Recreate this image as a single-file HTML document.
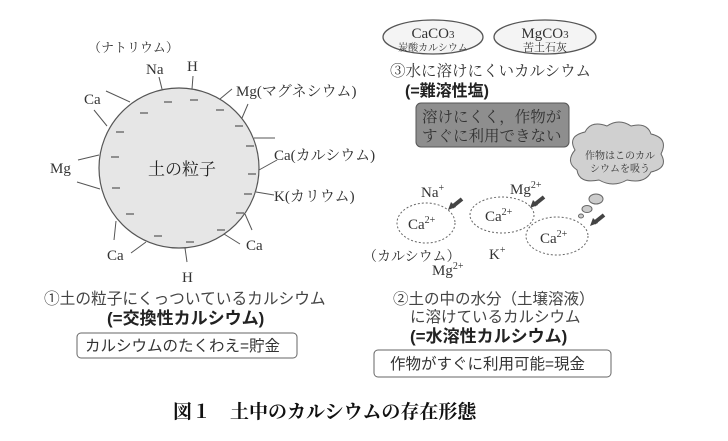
<!DOCTYPE html>
<html><head><meta charset="utf-8"><style>
html,body{margin:0;padding:0;background:#fff;}
svg{display:block;font-family:"Liberation Serif","Noto Serif CJK SC",serif;}
.g{font-family:"Liberation Sans","Noto Sans CJK JP",sans-serif;}
</style></head><body>
<svg width="728" height="441" viewBox="0 0 728 441" xmlns="http://www.w3.org/2000/svg">
<!-- particle -->
<circle cx="179" cy="168" r="80" fill="#e6e6e6" stroke="#555" stroke-width="1.2"/>
<g stroke="#555" stroke-width="1">
<line x1="162" y1="89" x2="159" y2="77"/><line x1="192" y1="89" x2="193" y2="76"/>
<line x1="220" y1="99" x2="232" y2="89"/><line x1="242" y1="118" x2="248" y2="104"/>
<line x1="254" y1="138" x2="275" y2="138"/><line x1="259" y1="170" x2="277" y2="160"/>
<line x1="256" y1="192" x2="274" y2="195"/><line x1="245" y1="214" x2="252" y2="230"/>
<line x1="224" y1="234" x2="240" y2="244"/><line x1="185" y1="248" x2="187" y2="262"/>
<line x1="146" y1="242" x2="131" y2="253"/><line x1="116" y1="221" x2="114" y2="240"/>
<line x1="100" y1="189" x2="77" y2="182"/><line x1="99" y1="155" x2="78" y2="160"/>
<line x1="107" y1="126" x2="94" y2="110"/><line x1="130" y1="102" x2="106" y2="91"/>
</g>
<g stroke="#555" stroke-width="1.2">
<line x1="164" y1="102" x2="172" y2="102"/><line x1="190" y1="100" x2="198" y2="100"/>
<line x1="216" y1="110" x2="224" y2="110"/><line x1="235" y1="126" x2="243" y2="126"/>
<line x1="246" y1="146" x2="254" y2="146"/><line x1="248" y1="174" x2="256" y2="174"/>
<line x1="244" y1="194" x2="252" y2="194"/><line x1="236" y1="213" x2="244" y2="213"/>
<line x1="217" y1="230" x2="225" y2="230"/><line x1="186" y1="242" x2="194" y2="242"/>
<line x1="154" y1="236" x2="162" y2="236"/><line x1="126" y1="214" x2="134" y2="214"/>
<line x1="112" y1="188" x2="120" y2="188"/><line x1="111" y1="157" x2="119" y2="157"/>
<line x1="116" y1="132" x2="124" y2="132"/><line x1="140" y1="113" x2="148" y2="113"/>
</g>
<g font-size="15" fill="#333">
<text x="88" y="52" font-size="13">（ナトリウム）</text>
<text x="146" y="74">Na</text><text x="187" y="71">H</text>
<text x="236" y="96">Mg(マグネシウム)</text>
<text x="84" y="104">Ca</text>
<text x="274" y="160">Ca(カルシウム)</text>
<text x="50" y="173">Mg</text>
<text x="274" y="201">K(カリウム)</text>
<text x="246" y="250">Ca</text>
<text x="107" y="260">Ca</text>
<text x="182" y="282">H</text>
<text x="148" y="175" font-size="17" fill="#222">土の粒子</text>
</g>
<!-- right top -->
<ellipse cx="433" cy="37" rx="50" ry="17" fill="#f4f4f4" stroke="#555" stroke-width="1.3"/>
<ellipse cx="545" cy="37" rx="51" ry="17" fill="#f4f4f4" stroke="#555" stroke-width="1.3"/>
<g fill="#333" text-anchor="middle">
<text x="433" y="38" font-size="15">CaCO<tspan font-size="11">3</tspan></text>
<text x="433" y="51" font-size="10">炭酸カルシウム</text>
<text x="545" y="38" font-size="15">MgCO<tspan font-size="11">3</tspan></text>
<text x="545" y="51" font-size="11">苦土石灰</text>
</g>
<text x="390" y="76" font-size="15.5" fill="#333">③水に溶けにくいカルシウム</text>
<text x="405" y="96" font-size="16" fill="#222" class="g" font-weight="bold">(=難溶性塩)</text>
<rect x="416" y="103" width="153" height="44" rx="5" fill="#8e8e8e" stroke="#555"/>
<text x="422" y="122" font-size="15.5" fill="#333">溶けにくく，作物が</text>
<text x="422" y="141" font-size="15.5" fill="#333">すぐに利用できない</text>
<!-- cloud -->
<path d="M575 150 q-8-14 10-18 q6-12 22-6 q12-8 24 0 q16-4 20 8 q18 4 10 20 q8 14-10 18 q-6 12-24 8 q-14 8-28 0 q-20 4-22-10 q-12-8-2-20z" fill="#d0d0d0" stroke="#666"/>
<text x="620" y="159" font-size="10" fill="#333" text-anchor="middle">作物はこのカル</text>
<text x="620" y="172" font-size="10" fill="#333" text-anchor="middle">シウムを吸う</text>
<ellipse cx="596" cy="199" rx="7" ry="5" fill="#ccc" stroke="#666"/>
<ellipse cx="587" cy="209" rx="5" ry="3.5" fill="#ccc" stroke="#666"/>
<ellipse cx="581" cy="216" rx="2.5" ry="2" fill="#ccc" stroke="#666"/>
<!-- ions -->
<g fill="none" stroke="#666" stroke-dasharray="2,2">
<ellipse cx="426" cy="223" rx="29" ry="20"/>
<ellipse cx="502" cy="215" rx="32" ry="18"/>
<ellipse cx="557" cy="236" rx="31" ry="19"/>
</g>
<g fill="#333" font-size="15">
<text x="408" y="229">Ca<tspan font-size="10" dy="-6">2+</tspan></text>
<text x="485" y="221">Ca<tspan font-size="10" dy="-6">2+</tspan></text>
<text x="540" y="243">Ca<tspan font-size="10" dy="-6">2+</tspan></text>
<text x="421" y="197">Na<tspan font-size="10" dy="-6">+</tspan></text>
<text x="510" y="194">Mg<tspan font-size="10" dy="-6">2+</tspan></text>
<text x="363" y="261" font-size="14">（カルシウム）</text>
<text x="489" y="259">K<tspan font-size="10" dy="-6">+</tspan></text>
<text x="432" y="275">Mg<tspan font-size="10" dy="-6">2+</tspan></text>
</g>
<g stroke="#444" stroke-width="4">
<line x1="462" y1="199" x2="452" y2="207"/><line x1="544" y1="197" x2="534" y2="205"/><line x1="604" y1="215" x2="594" y2="223"/>
</g>
<g fill="#444">
<polygon points="448,210 451,202 456,207"/><polygon points="530,208 533,200 538,205"/><polygon points="590,226 593,218 598,223"/>
</g>
<!-- bottom -->
<text x="44" y="304" font-size="15.7" fill="#444" class="g">①土の粒子にくっついているカルシウム</text>
<text x="107" y="324" font-size="17" fill="#222" class="g" font-weight="bold">(=交換性カルシウム)</text>
<rect x="77" y="333" width="220" height="25" rx="4" fill="#fff" stroke="#666"/>
<text x="85" y="351" font-size="15.5" fill="#333" class="g">カルシウムのたくわえ=貯金</text>
<text x="393" y="304" font-size="15.5" fill="#444" class="g">②土の中の水分（土壌溶液）</text>
<text x="410" y="322" font-size="15.5" fill="#444" class="g">に溶けているカルシウム</text>
<text x="410" y="342" font-size="17" fill="#222" class="g" font-weight="bold">(=水溶性カルシウム)</text>
<rect x="374" y="350" width="237" height="27" rx="4" fill="#fff" stroke="#666"/>
<text x="390" y="369" font-size="15.5" fill="#333" class="g">作物がすぐに利用可能=現金</text>
<text x="173" y="418" font-size="19" fill="#111" font-weight="bold">図１　土中のカルシウムの存在形態</text>
</svg>
</body></html>
